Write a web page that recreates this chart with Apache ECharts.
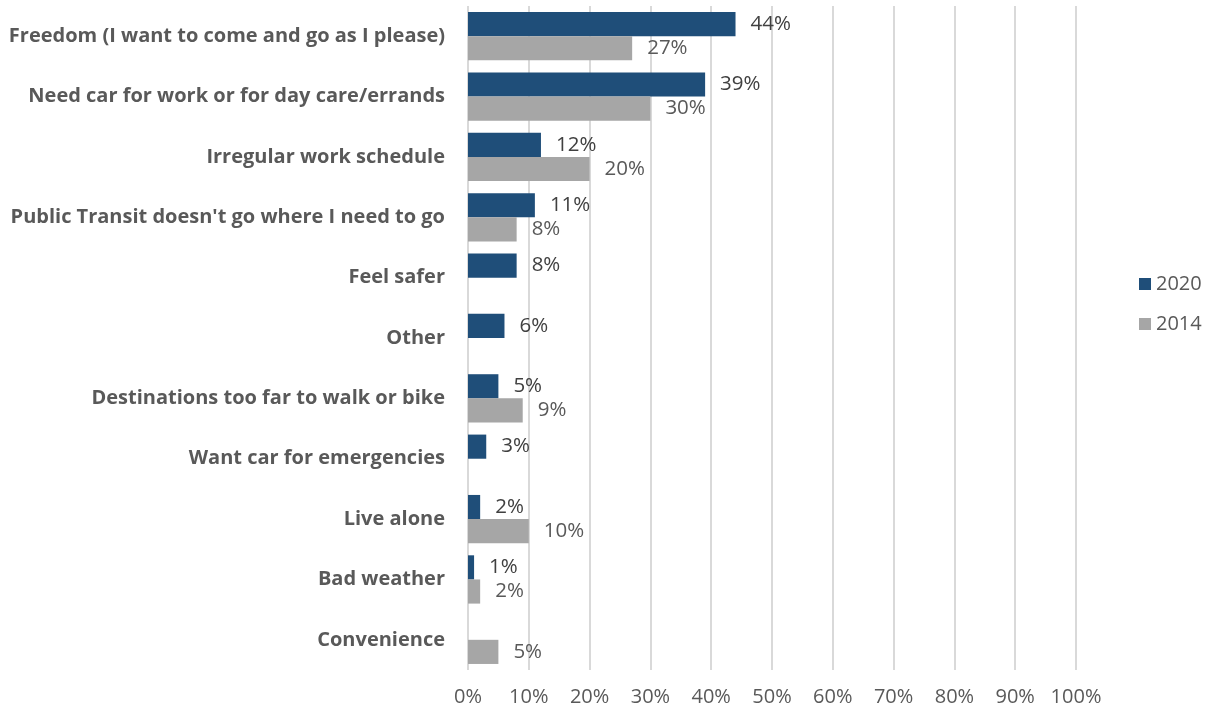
<!DOCTYPE html>
<html>
<head>
<meta charset="utf-8">
<script src="https://cdn.jsdelivr.net/npm/echarts@6/dist/echarts.min.js"></script>
<style>
  html, body { margin: 0; padding: 0; background: #ffffff; }
  #chart { width: 1211px; height: 711px; }
</style>
</head>
<body>
<div id="chart"></div>
<script>
// Reasons for owning a car, share of respondents by survey year
const categories = [
  'Freedom (I want to come and go as I please)',
  'Need car for work or for day care/errands',
  'Irregular work schedule',
  "Public Transit doesn't go where I need to go",
  'Feel safer',
  'Other',
  'Destinations too far to walk or bike',
  'Want car for emergencies',
  'Live alone',
  'Bad weather',
  'Convenience'
];
const values2020 = [44, 39, 12, 11, 8, 6, 5, 3, 2, 1, null];
const values2014 = [27, 30, 20, 8, null, null, 9, null, 10, 2, 5];
const seriesNames = ['2020', '2014'];

const FONT = '"Open Sans", sans-serif';

const chart = echarts.init(document.getElementById('chart'), null, { renderer: 'canvas' });

function barSeries(name, data, color, labelColor) {
  return {
    name: name,
    type: 'bar',
    data: data,
    barGap: '0%',
    barCategoryGap: '20%',
    itemStyle: { color: color },
    label: {
      show: true,
      position: 'right',
      distance: 15,
      formatter: '{c}%',
      color: labelColor,
      fontFamily: FONT,
      fontSize: 20.5
    },
    emphasis: { disabled: true }
  };
}

chart.setOption({
  animation: false,
  backgroundColor: '#ffffff',
  grid: { left: 468, right: 135, top: 6, bottom: 41, containLabel: false },
  legend: {
    orient: 'vertical',
    left: 1134,
    top: 269,
    itemWidth: 12,
    itemHeight: 12,
    itemGap: 20,
    icon: 'rect',
    textStyle: { color: '#595959', fontFamily: FONT, fontSize: 20, padding: [0, 0, 0, 0] },
    data: seriesNames
  },
  xAxis: {
    type: 'value',
    min: 0,
    max: 100,
    interval: 10,
    axisLine: { show: false },
    axisTick: { show: false },
    splitLine: { show: true, lineStyle: { color: '#d9d9d9', width: 2 } },
    axisLabel: {
      formatter: '{value}%',
      color: '#595959',
      fontFamily: FONT,
      fontSize: 20,
      margin: 17
    }
  },
  yAxis: {
    type: 'category',
    data: categories,
    inverse: true,
    axisLine: { show: false },
    axisTick: { show: false },
    splitLine: { show: false },
    axisLabel: {
      color: '#595959',
      fontFamily: FONT,
      fontWeight: 'bold',
      fontSize: 20,
      margin: 23
    }
  },
  series: [
    barSeries(seriesNames[0], values2020, '#1f4e79', '#404040'),
    barSeries(seriesNames[1], values2014, '#a6a6a6', '#595959')
  ]
});
</script>
</body>
</html>
